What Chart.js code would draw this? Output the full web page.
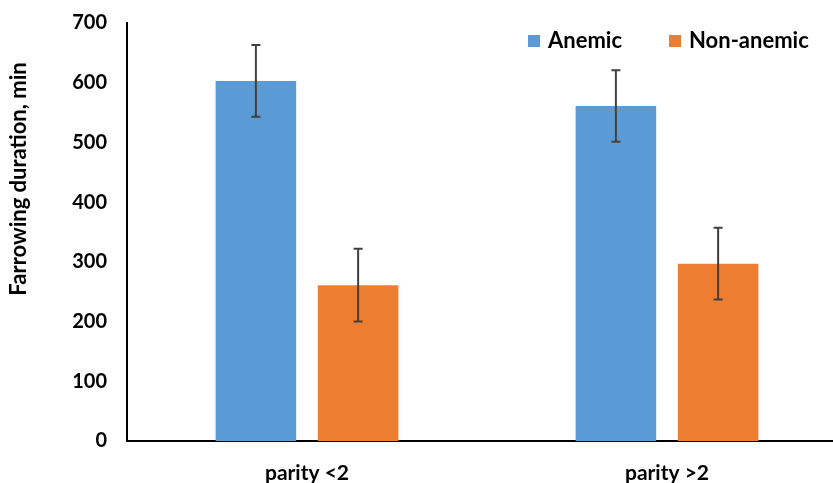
<!DOCTYPE html>
<html>
<head>
<meta charset="utf-8">
<script src="https://cdn.jsdelivr.net/npm/chart.js@4.4.0/dist/chart.umd.min.js"></script>
<style>
  body { margin: 0; overflow: hidden; background: #fff; }
  #wrap { width: 847px; height: 483px; }
</style>
</head>
<body>
<div id="wrap"><canvas id="myChart"></canvas></div>
<script>
// dados
const categorias = ['parity <2', 'parity >2'];
const anemic = [603, 561];
const nonAnemic = [261, 297];
const anemicErr = [60, 60];
const nonAnemicErr = [61, 60];
const seriesNames = ['Anemic', 'Non-anemic'];
const yTitle = 'Farrowing duration, min';
const yMax = 700;
const yStep = 100;

const azul = '#5B9BD5';
const laranja = '#ED7D31';
const fonte = 'Lato, "Liberation Sans", sans-serif';

// barras de erro
const errorBars = {
  id: 'errorBars',
  afterDatasetsDraw(chart) {
    const ctx = chart.ctx;
    const y = chart.scales.y;
    ctx.save();
    ctx.strokeStyle = '#404040';
    ctx.lineWidth = 2;
    chart.data.datasets.forEach((ds, i) => {
      const meta = chart.getDatasetMeta(i);
      meta.data.forEach((bar, j) => {
        const top = y.getPixelForValue(ds.data[j] + ds.errors[j]);
        const bot = y.getPixelForValue(ds.data[j] - ds.errors[j]);
        ctx.beginPath();
        ctx.moveTo(bar.x, top); ctx.lineTo(bar.x, bot);
        ctx.moveTo(bar.x - 4.5, top); ctx.lineTo(bar.x + 4.5, top);
        ctx.moveTo(bar.x - 4.5, bot); ctx.lineTo(bar.x + 4.5, bot);
        ctx.stroke();
      });
    });
    ctx.restore();
  }
};

// legenda e titulo do eixo y desenhados a mao (posicao igual a figura)
const extras = {
  id: 'extras',
  afterDraw(chart) {
    const ctx = chart.ctx;
    ctx.save();
    ctx.fillStyle = '#000';
    ctx.font = 'bold 22px ' + fonte;
    ctx.translate(19, 179);
    ctx.rotate(-Math.PI / 2);
    ctx.textAlign = 'center';
    ctx.textBaseline = 'middle';
    ctx.fillText(yTitle, 0, 0);
    ctx.restore();

    ctx.save();
    ctx.font = 'bold 22px ' + fonte;
    ctx.textBaseline = 'middle';
    const xs = [528, 669];
    chart.data.datasets.forEach((ds, i) => {
      ctx.fillStyle = ds.backgroundColor;
      ctx.fillRect(xs[i], 35, 12, 12);
      ctx.fillStyle = '#000';
      ctx.fillText(ds.label, xs[i] + 20, 41);
    });
    ctx.restore();
  }
};

const ctx = document.getElementById('myChart').getContext('2d');

const grafico = new Chart(ctx, {
  type: 'bar',
  data: {
    labels: categorias,
    datasets: [
      {
        label: seriesNames[0],
        data: anemic,
        errors: anemicErr,
        backgroundColor: azul,
        borderWidth: 0
      },
      {
        label: seriesNames[1],
        data: nonAnemic,
        errors: nonAnemicErr,
        backgroundColor: laranja,
        borderWidth: 0
      }
    ]
  },
  options: {
    responsive: true,
    maintainAspectRatio: false,
    animation: false,
    layout: { padding: { top: 23, right: 0, left: 0, bottom: 0 } },
    datasets: {
      bar: { categoryPercentage: 0.568, barPercentage: 0.788 }
    },
    plugins: {
      legend: { display: false },
      tooltip: { enabled: false }
    },
    scales: {
      x: {
        grid: { display: false, drawTicks: false },
        border: { display: true, color: '#000', width: 2 },
        ticks: { color: '#000', padding: 20, font: { family: fonte, size: 21, weight: 'bold' } },
        afterFit(scale) { scale.height = 42; }
      },
      y: {
        min: 0,
        max: yMax,
        grid: { display: false, drawTicks: false },
        border: { display: true, color: '#000', width: 2 },
        ticks: { stepSize: yStep, color: '#000', padding: 20, font: { family: fonte, size: 20, weight: 'bold' } },
        afterFit(scale) {
          scale.width = 127;
          scale.paddingTop = 0;
          scale.paddingBottom = 0;
        }
      }
    }
  },
  plugins: [errorBars, extras]
});
</script>
</body>
</html>
